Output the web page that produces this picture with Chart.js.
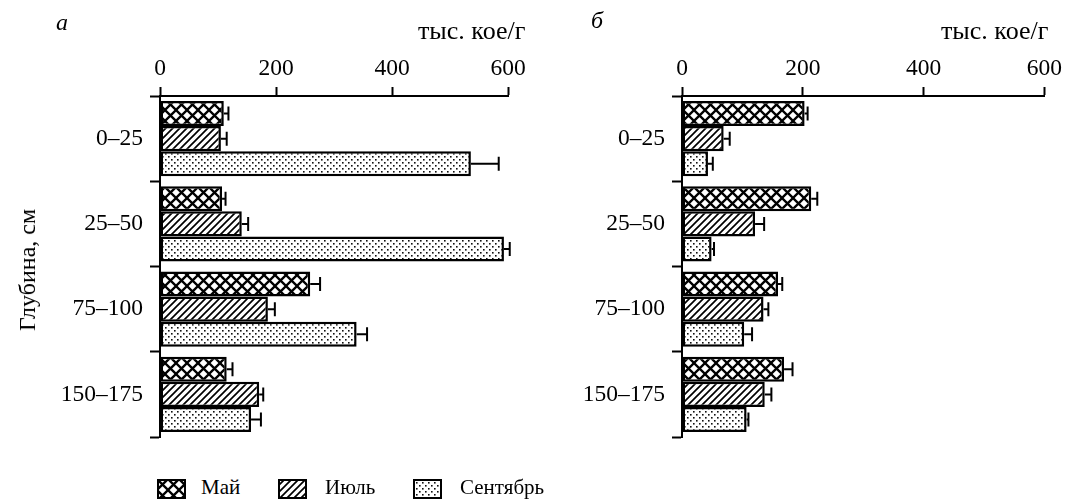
<!DOCTYPE html>
<html><head><meta charset="utf-8">
<script src="https://cdn.jsdelivr.net/npm/chart.js@4"></script>
<style>
html,body{margin:0;padding:0;background:#fff;width:1066px;height:499px;overflow:hidden;font-family:"Liberation Serif",serif;color:#000}
canvas.ch{position:absolute;top:0}
.t{position:absolute;white-space:nowrap;line-height:1}
.sw{position:absolute}
</style></head><body>
<canvas id="ca" class="ch" width="530" height="450" style="left:0"></canvas>
<canvas id="cb" class="ch" width="526" height="450" style="left:540px"></canvas>
<div class="t" style="left:56px;top:10px;font-size:24px;font-style:italic">а</div>
<div class="t" style="left:591px;top:8px;font-size:24px;font-style:italic">б</div>
<div class="t" style="left:418px;top:18px;font-size:26px">тыс. кое/г</div>
<div class="t" style="left:941px;top:18px;font-size:26px">тыс. кое/г</div>
<div class="t" style="left:27px;top:270px;font-size:24px;transform:translate(-50%,-50%) rotate(-90deg)">Глубина, см</div>
<canvas class="sw" id="s0" width="29" height="20" style="left:157px;top:479px"></canvas>
<canvas class="sw" id="s1" width="29" height="20" style="left:278px;top:479px"></canvas>
<canvas class="sw" id="s2" width="29" height="20" style="left:413px;top:479px"></canvas>
<div class="t" id="l0" style="left:201px;top:477px;font-size:21px"></div>
<div class="t" id="l1" style="left:325px;top:477px;font-size:21px"></div>
<div class="t" id="l2" style="left:460px;top:477px;font-size:21px"></div>
<script>
const categories = ['0–25','25–50','75–100','150–175'];
const seriesNames = ['Май','Июль','Сентябрь'];
const xTicks = [0,200,400,600];

const aMay = [110,107,259,115];
const aMayErr = [8,6,17,10];
const aJul = [105,141,186,171];
const aJulErr = [10,11,12,7];
const aSep = [536,593,339,157];
const aSepErr = [48,10,18,17];

const bMay = [203,214,159,169];
const bMayErr = [5,10,7,14];
const bJul = [69,121,135,137];
const bJulErr = [10,15,8,11];
const bSep = [43,49,103,107];
const bSepErr = [8,4,13,3];

function makePattern(kind){
  const c=document.createElement('canvas');
  const x=c.getContext('2d');
  if(kind==='cross'){
    const s=11;c.width=s;c.height=s;
    x.fillStyle='#fff';x.fillRect(0,0,s,s);
    x.strokeStyle='#000';x.lineWidth=2.3;
    x.beginPath();x.moveTo(0,0);x.lineTo(s,s);x.moveTo(0,s);x.lineTo(s,0);x.stroke();
  } else if(kind==='diag'){
    const s=7;c.width=s;c.height=s;
    x.fillStyle='#fff';x.fillRect(0,0,s,s);
    x.strokeStyle='#000';x.lineWidth=1.7;
    x.beginPath();x.moveTo(-1,s+1);x.lineTo(s+1,-1);
    x.moveTo(-1,1);x.lineTo(1,-1);x.moveTo(s-1,s+1);x.lineTo(s+1,s-1);x.stroke();
  } else {
    const s=6;c.width=s;c.height=s;
    x.fillStyle='#fff';x.fillRect(0,0,s,s);
    x.fillStyle='#111';
    x.fillRect(0,0,1.6,1.6);x.fillRect(3,3,1.6,1.6);
  }
  return c;
}
const patCanv=[makePattern('cross'),makePattern('diag'),makePattern('dots')];
const ctx0=document.createElement('canvas').getContext('2d');
const pats=patCanv.map(p=>ctx0.createPattern(p,'repeat'));

// legend
for(let i=0;i<3;i++){
  const c=document.getElementById('s'+i);const x=c.getContext('2d');
  x.fillStyle=x.createPattern(patCanv[i],'repeat');x.fillRect(0,0,29,20);
  x.strokeStyle='#000';x.lineWidth=2;x.strokeRect(1,1,27,18);
  document.getElementById('l'+i).textContent=seriesNames[i];
}

const errPlugin={
  id:'errbars',
  afterDatasetsDraw(chart){
    const c=chart.ctx;const xs=chart.scales.x;
    c.save();c.strokeStyle='#000';c.lineWidth=2;
    chart.data.datasets.forEach((ds,di)=>{
      const meta=chart.getDatasetMeta(di);
      meta.data.forEach((el,i)=>{
        const v=ds.data[i],e=ds.err[i];
        const x0=xs.getPixelForValue(v),x1=xs.getPixelForValue(v+e);
        const y=el.y;
        c.beginPath();c.moveTo(x0,y);c.lineTo(x1,y);
        c.moveTo(x1,y-7);c.lineTo(x1,y+7);c.stroke();
      });
    });
    c.restore();
  }
};

function build(id,may,mayE,jul,julE,sep,sepE,yWidth,padRight){
  const font={family:'"Liberation Serif", serif',size:23.5};
  return new Chart(document.getElementById(id),{
    type:'bar',
    data:{labels:categories,datasets:[
      {label:seriesNames[0],data:may,err:mayE,backgroundColor:pats[0]},
      {label:seriesNames[1],data:jul,err:julE,backgroundColor:pats[1]},
      {label:seriesNames[2],data:sep,err:sepE,backgroundColor:pats[2]}
    ].map(d=>Object.assign(d,{borderColor:'#000',borderWidth:2.5,borderSkipped:false,categoryPercentage:0.88,barPercentage:1}))},
    options:{
      indexAxis:'y',responsive:false,animation:false,devicePixelRatio:1,
      layout:{padding:{left:0,top:0,right:padRight,bottom:13}},
      plugins:{legend:{display:false},tooltip:{enabled:false}},
      scales:{
        x:{position:'top',min:0,max:600,
          afterBuildTicks(s){s.ticks=xTicks.map(v=>({value:v}));},
          afterFit(s){s.height=96;},
          ticks:{font,color:'#000',padding:4,maxRotation:0},
          grid:{drawOnChartArea:false,tickLength:9,tickColor:'#000',tickWidth:2},
          border:{color:'#000',width:2}},
        y:{afterFit(s){s.width=yWidth;s.paddingTop=0;s.paddingBottom=0;},
          ticks:{font,color:'#000',padding:7},
          grid:{drawOnChartArea:false,offset:true,tickLength:10,tickColor:'#000',tickWidth:2},
          border:{color:'#000',width:2}}
      }
    },
    plugins:[errPlugin]
  });
}
build('ca',aMay,aMayErr,aJul,aJulErr,aSep,aSepErr,160,22);
build('cb',bMay,bMayErr,bJul,bJulErr,bSep,bSepErr,142,18);
</script>
</body></html>
